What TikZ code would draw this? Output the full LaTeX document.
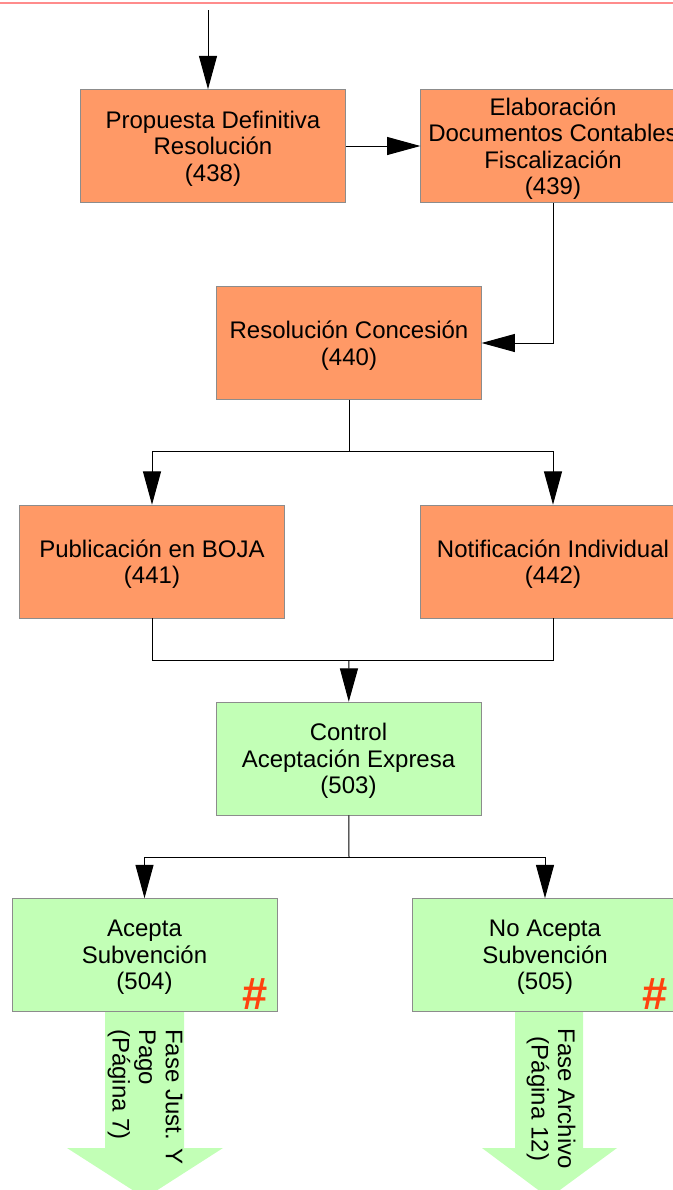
\documentclass[tikz,border=0pt]{standalone}
\usepackage{fontspec}
\setmainfont{Liberation Sans}
\usetikzlibrary{arrows.meta}
\definecolor{naranja}{HTML}{FF9966}
\definecolor{verde}{HTML}{C2FFB6}
\definecolor{almoh}{HTML}{FF420E}
\definecolor{borde}{HTML}{8C8C8C}

\begin{document}
\begin{tikzpicture}[x=0.75pt,y=-0.75pt,font=\fontsize{18}{19.9}\selectfont]%
  \tikzstyle{cajan}=[rectangle,draw=borde,fill=naranja,minimum width=198.5pt,minimum height=84.75pt,align=center,inner sep=0,text depth=0pt]
  \tikzstyle{cajav}=[cajan,fill=verde]
  \tikzstyle{flecha}=[-{Triangle[length=25pt,width=13.5pt]},line width=0.75pt]
  \tikzstyle{linea}=[line width=0.75pt]
  \tikzstyle{almo}=[text=almoh,font=\fontsize{34}{34}\selectfont\bfseries]
  \useasboundingbox (0,0) rectangle (673,1190);
  \clip (0,0) rectangle (673,1190);
  \draw[red!45,line width=1.2pt] (0,3) -- (673,3);
  % cajas
  \node(438)[cajan] at (213,146) {Propuesta Definitiva\\Resolución\\(438)};
  \node(439)[cajan] at (553,146) {Elaboración\\Documentos Contables\\Fiscalización\\(439)};
  \node(440)[cajan] at (349,343) {Resolución Concesión\\(440)};
  \node(441)[cajan] at (152,561.5) {Publicación en BOJA\\(441)};
  \node(442)[cajan] at (553,561.5) {Notificación Individual\\(442)};
  \node(503)[cajav] at (348.5,758.5) {Control\\Aceptación Expresa\\(503)};
  \node(504)[cajav] at (144.5,955) {Acepta\\Subvención\\(504)};
  \node(505)[cajav] at (545,955) {No Acepta\\Subvención\\(505)};
  \node(a504)[almo] at (255,994) {\#};
  \node(a505)[almo] at (655.5,994) {\#};
  % flechas de fase
  \fill[verde] (105,1012) -- (184,1012) -- (184,1148) -- (223,1148) -- (145,1198)
    -- (67,1148) -- (105,1148) -- cycle;
  \fill[verde] (515,1012) -- (583,1012) -- (583,1148) -- (617,1148) -- (549,1198)
    -- (482,1148) -- (515,1148) -- cycle;
  \node(f504)[rotate=-90,align=left] at (145,1097) {Fase Just. Y\\Pago\\(Página 7)};
  \node(f505)[rotate=-90,align=center] at (551,1099) {Fase Archivo\\(Página 12)};
  % conectores
  \coordinate(ini) at (208,10);
  \coordinate(j1) at (349,451);
  \coordinate(j2) at (349,660);
  \coordinate(j3) at (349,857);
  \draw[flecha] (ini) -- (ini |- 438.north);
  \draw[flecha] (438) -- (439);
  \draw[flecha] (439) |- (440);
  \draw[linea] (440) -- (j1);
  \draw[flecha] (j1) -| (441);
  \draw[flecha] (j1) -| (442);
  \draw[linea] (441) |- (j2);
  \draw[linea] (442) |- (j2);
  \draw[flecha] (j2) -- (503);
  \draw[linea] (503) -- (j3);
  \draw[flecha] (j3) -| (504);
  \draw[flecha] (j3) -| (505);
\end{tikzpicture}
\end{document}
